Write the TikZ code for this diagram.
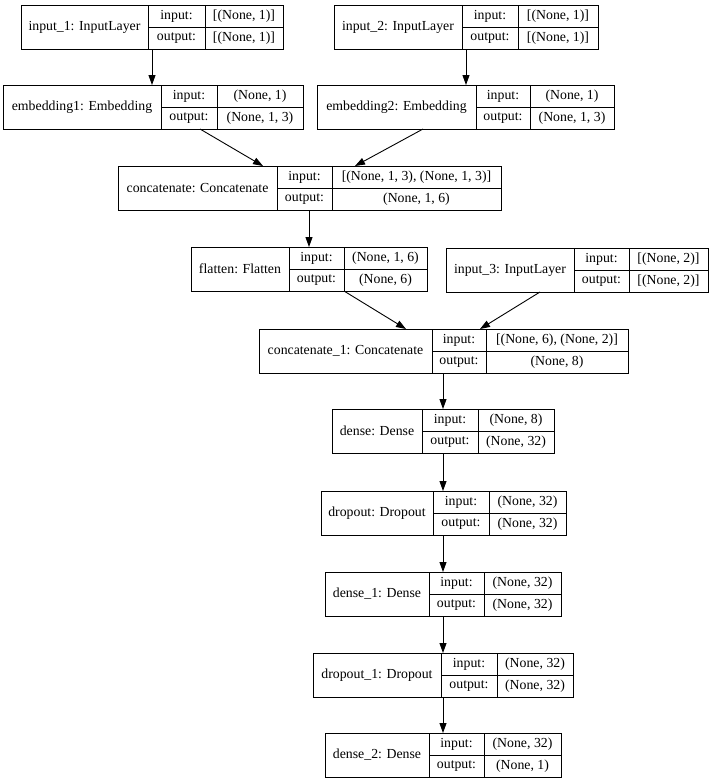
\documentclass[tikz,border=0pt]{standalone}
\usepackage{fontspec}
\setmainfont{Liberation Serif}
\usetikzlibrary{arrows.meta}
\tikzset{
  lbox/.style={draw, line width=0.9pt, inner sep=0pt, outer sep=0pt, anchor=north west, minimum height=44pt},
  cellline/.style={line width=0.9pt},
  txt/.style={inner sep=0pt, font=\fontsize{13.8}{16}\selectfont},
  arr/.style={line width=0.9pt, -{Triangle[length=10pt,width=7pt]}}
}
% #1 name, #2 left, #3 div1, #4 div2, #5 right, #6 top, #7 label, #8 input, #9 output
\newcommand\layerbox[9]{%
  \pgfmathsetmacro\lbw{#5-#2}%
  \node[lbox, minimum width=\lbw pt] (#1) at (#2,#6) {};
  \draw[cellline] (#3,#6) -- (#3,{#6+44});
  \draw[cellline] (#4,#6) -- (#4,{#6+44});
  \draw[cellline] (#3,{#6+22}) -- (#5,{#6+22});
  \node[txt] (#1-l) at ({(#2+#3)/2},{#6+22}) {#7};
  \node[txt] (#1-ik) at ({(#3+#4)/2},{#6+11}) {input:};
  \node[txt] (#1-ok) at ({(#3+#4)/2},{#6+33}) {output:};
  \node[txt] (#1-iv) at ({(#4+#5)/2},{#6+11}) {#8};
  \node[txt] (#1-ov) at ({(#4+#5)/2},{#6+33}) {#9};
}
\begin{document}
\begin{tikzpicture}[x=1pt,y=-1pt]
\useasboundingbox[fill=white] (0,0) rectangle (713,782);
\layerbox{in1}{21}{148}{205}{283}{5}{input\_1: InputLayer}{[(None, 1)]}{[(None, 1)]}
\layerbox{in2}{334}{462}{518}{598}{5}{input\_2: InputLayer}{[(None, 1)]}{[(None, 1)]}
\layerbox{emb1}{3}{161}{217}{303}{85}{embedding1: Embedding}{(None, 1)}{(None, 1, 3)}
\layerbox{emb2}{317}{476}{530}{614}{85}{embedding2: Embedding}{(None, 1)}{(None, 1, 3)}
\layerbox{cat}{118}{277}{332}{501}{166}{concatenate: Concatenate}{[(None, 1, 3), (None, 1, 3)]}{(None, 1, 6)}
\layerbox{flat}{191}{289}{344}{427}{247}{flatten: Flatten}{(None, 1, 6)}{(None, 6)}
\layerbox{in3}{446}{574}{629}{708}{248}{input\_3: InputLayer}{[(None, 2)]}{[(None, 2)]}
\layerbox{cat1}{259}{432}{486}{628}{329}{concatenate\_1: Concatenate}{[(None, 6), (None, 2)]}{(None, 8)}
\layerbox{den}{332}{422}{478}{554}{409}{dense: Dense}{(None, 8)}{(None, 32)}
\layerbox{drop}{321}{433}{489}{566}{491}{dropout: Dropout}{(None, 32)}{(None, 32)}
\layerbox{den1}{325}{429}{484}{561}{572}{dense\_1: Dense}{(None, 32)}{(None, 32)}
\layerbox{drop1}{313}{441}{497}{573}{653}{dropout\_1: Dropout}{(None, 32)}{(None, 32)}
\layerbox{den2}{325}{429}{484}{561}{733}{dense\_2: Dense}{(None, 32)}{(None, 1)}

\draw[arr] (in1.south -| 152,0) -- (emb1.north -| 152,0);
\draw[arr] (in2.south -| 466,0) -- (emb2.north -| 466,0);
\draw[arr] (emb1.south -| 200,0) -- (cat.north -| 263,0);
\draw[arr] (emb2.south -| 423,0) -- (cat.north -| 355,0);
\draw[arr] (cat.south -| 309,0) -- (flat.north -| 309,0);
\draw[arr] (flat.south -| 344,0) -- (cat1.north -| 406,0);
\draw[arr] (in3.south -| 540,0) -- (cat1.north -| 480,0);
\draw[arr] (cat1.south -| 443,0) -- (den.north -| 443,0);
\draw[arr] (den.south -| 443,0) -- (drop.north -| 443,0);
\draw[arr] (drop.south -| 443,0) -- (den1.north -| 443,0);
\draw[arr] (den1.south -| 443,0) -- (drop1.north -| 443,0);
\draw[arr] (drop1.south -| 443,0) -- (den2.north -| 443,0);
\end{tikzpicture}
\end{document}
